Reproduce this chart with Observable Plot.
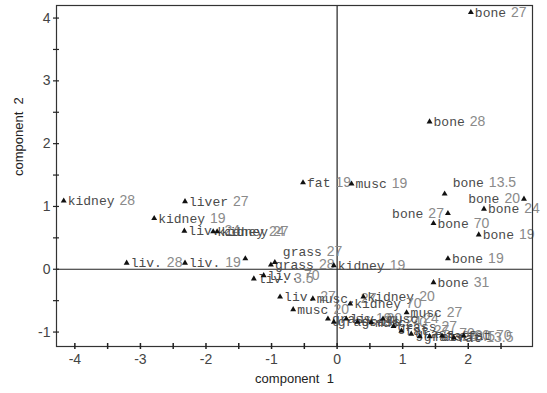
<!DOCTYPE html>
<html><head><meta charset="utf-8">
<script src="https://cdn.jsdelivr.net/npm/d3@7"></script>
<script src="https://cdn.jsdelivr.net/npm/@observablehq/plot@0.6"></script>
<style>body{margin:0;background:#fff}svg{display:block}</style>
</head><body><div id="chart"></div>
<script>
// point labels: tissue + age
const tissue = ["bone","bone","fat","musc","bone","bone","bone","bone","bone","bone","bone","bone",
  "kidney","liver","kidney","liv.","kidney","kidney","liv.","liv.","","grass","grass","liv.","liv.","liv.","musc","musc.","kidney","kidney","kidney",
  "grass","grass","liv.","grass","musc","musc","grass","fat","grass","grass","fat","fat","fat","fat","musc"];
const age = ["27","28","19","19","13.5","20","24","27","70","19","19","31",
  "28","27","19","24","24","27","28","19","","28","27","70","3.5","27","20","27","19","20","70",
  "19","20","20","24","70","24","27","27","70","13.5","24","20","13.5","70","27"];
const comp1 = [2.04,1.41,-0.52,0.22,1.64,2.85,2.24,1.69,1.47,2.16,1.69,1.47,
  -4.17,-2.32,-2.79,-2.33,-1.89,-1.83,-3.21,-2.32,-1.40,-1.01,-0.95,-1.12,-1.27,-0.87,-0.67,-0.37,-0.05,0.40,0.20,
  -0.14,-0.05,0.14,0.31,0.52,0.70,0.86,0.98,1.13,1.26,1.41,1.60,1.78,1.93,1.06];
const comp2 = [4.09,2.35,1.38,1.36,1.20,1.12,0.96,0.89,0.73,0.55,0.17,-0.21,
  1.09,1.08,0.81,0.61,0.60,0.60,0.10,0.10,0.17,0.07,0.11,-0.10,-0.15,-0.44,-0.64,-0.47,0.06,-0.44,-0.55,
  -0.79,-0.84,-0.79,-0.84,-0.85,-0.79,-0.91,-0.98,-1.03,-1.07,-1.07,-1.06,-1.09,-1.06,-0.69];
// label placement: r = right, l = left, u = upper right
const labelSide = ["r","r","r","r","u","l","r","l","r","r","r","r",
  "r","r","r","r","r","r","r","r","r","r","u","r","r","r","r","r","r","r","r",
  "r","r","r","r","r","r","r","r","r","r","r","r","r","r","r"];
const xTicks = [-4,-3,-2,-1,0,1,2];
const yTicks = [-1,0,1,2,3,4];
const xMinor = [-3.5,-2.5,-1.5,-0.5,0.5,1.5,2.5];
const yMinor = [-0.5,0.5,1.5,2.5,3.5];

const xDom = [-4.28, 2.98], yDom = [-1.23, 4.2];
const mono = "'Liberation Mono', 'DejaVu Sans Mono', monospace";
const sans = "'Liberation Sans', Arial, sans-serif";
const CW = 7.8;
const numW = s => [...s].reduce((w, c) => w + (c === "." ? 3.9 : 7.8), 0);

const rows = tissue.map((t, i) => ({name: t, num: age[i], x: comp1[i], y: comp2[i], side: labelSide[i]}));

const labelMarks = [];
rows.forEach(r => {
  if (!r.name) return;
  let dxName, dxNum, anchor = "start", dy = 0;
  const nw = r.name.length * CW;
  if (r.side === "l") { anchor = "end"; dxNum = -4; dxName = -4 - numW(r.num) - 5; }
  else if (r.side === "u") { dxName = 8; dxNum = 8 + nw + 5; dy = -11; }
  else { dxName = 4; dxNum = 4 + nw + 5; }
  labelMarks.push(Plot.text([r], {x: "x", y: "y", text: "name", dx: dxName, dy, textAnchor: anchor,
    fontFamily: mono, fontSize: 13, fill: "#4a4a4a"}));
  labelMarks.push(Plot.text([r], {x: "x", y: "y", text: "num", dx: dxNum, dy, textAnchor: anchor,
    fontFamily: sans, fontSize: 14, fill: "#8a8a8a"}));
});

const chart = Plot.plot({
  width: 547, height: 393,
  marginLeft: 56, marginRight: 15, marginTop: 5, marginBottom: 47,
  style: {fontFamily: sans, fontSize: "14px", background: "#fff"},
  x: {domain: xDom},
  y: {domain: yDom},
  marks: [
    Plot.ruleX([0], {stroke: "#222", strokeWidth: 1.2}),
    Plot.ruleY([0], {stroke: "#222", strokeWidth: 1.2}),
    ...labelMarks,
    Plot.dot(rows, {x: "x", y: "y", symbol: "triangle", r: 2.2, fill: "#111", stroke: "none"}),
    Plot.frame({stroke: "#333", strokeWidth: 1.2}),
    Plot.ruleX(xTicks.concat(xMinor), {x: d => d, y1: yDom[0], y2: yDom[0], insetTop: -3, insetBottom: -3, stroke: "#222", strokeWidth: 1.5}),
    Plot.ruleY(yTicks.concat(yMinor), {y: d => d, x1: xDom[0], x2: xDom[0], insetLeft: -3, insetRight: -3, stroke: "#222", strokeWidth: 1.2}),
    Plot.axisX({ticks: xTicks, tickSize: 0, tickPadding: 8, tickFormat: d => String(d), label: null, fill: "#444", fontSize: 14}),
    Plot.axisY({ticks: yTicks, tickSize: 0, tickPadding: 6, tickFormat: d => String(d), label: null, fill: "#444", fontSize: 14}),
    Plot.text(["component  1"], {frameAnchor: "bottom", dy: 36, fontSize: 13, fill: "#222", fontFamily: sans, text: d => d}),
    Plot.text(["component  2"], {frameAnchor: "left", dx: -38, rotate: -90, fontSize: 13, fill: "#222", fontFamily: sans, text: d => d})
  ]
});
chart.querySelectorAll("text").forEach(t => t.style.whiteSpace = "pre");
document.getElementById("chart").appendChild(chart);
</script>
</body></html>
